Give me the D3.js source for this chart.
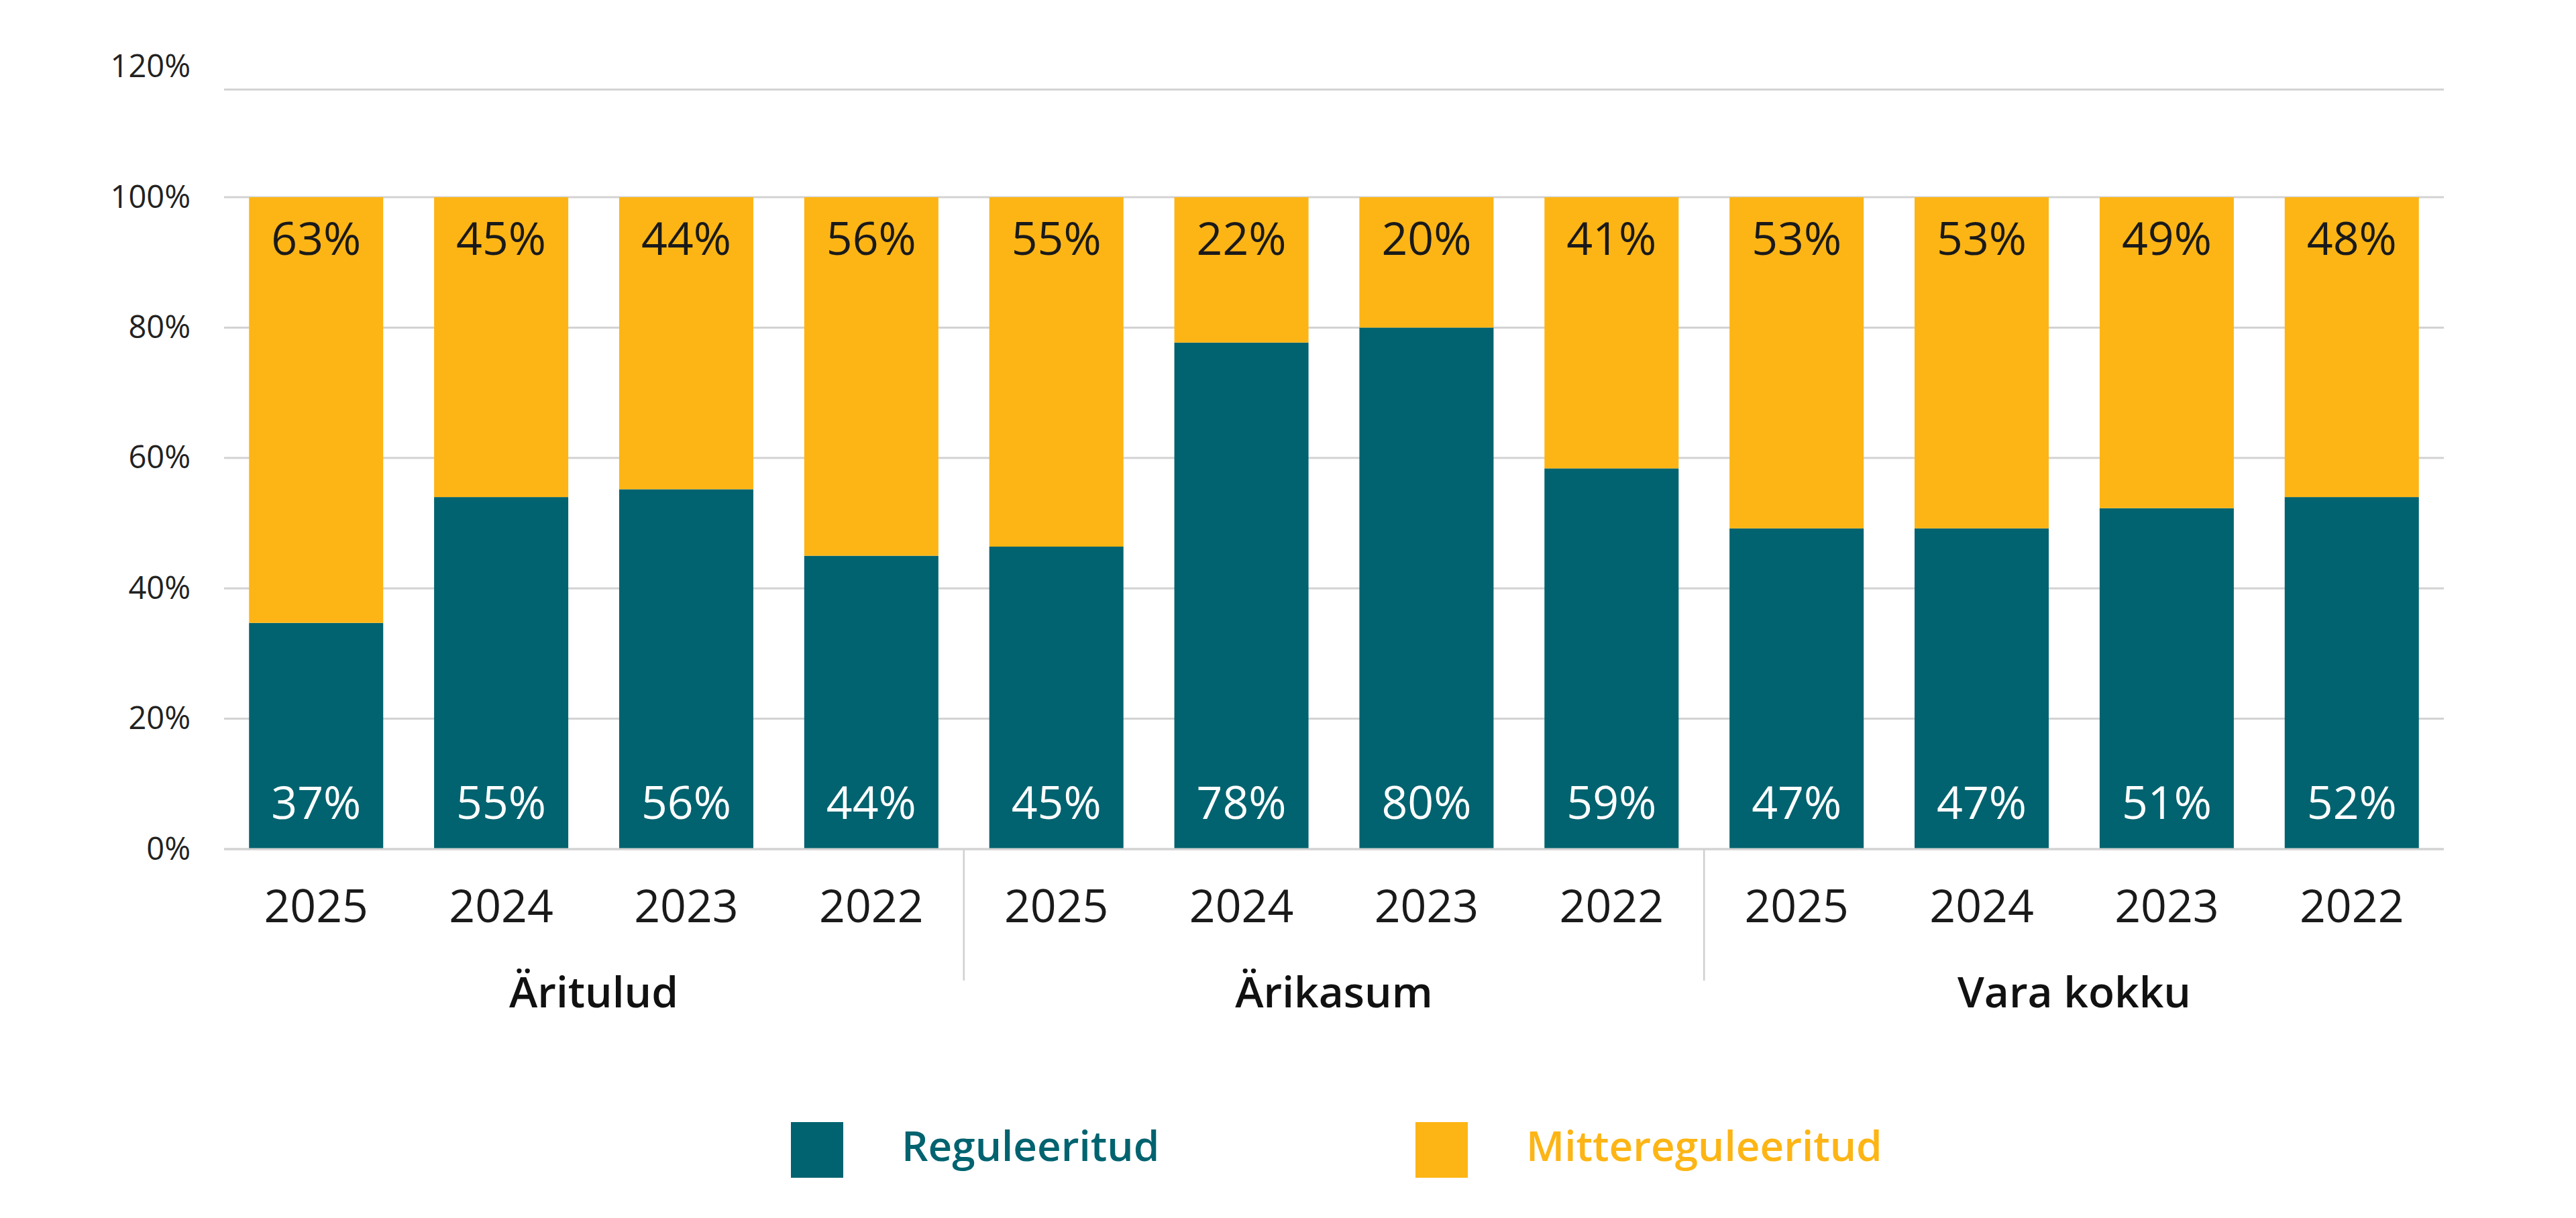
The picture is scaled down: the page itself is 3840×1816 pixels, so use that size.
<!DOCTYPE html>
<html>
<head>
<meta charset="utf-8">
<script src="https://cdn.jsdelivr.net/npm/d3@7"></script>
<style>
  html, body { margin: 0; padding: 0; background: #ffffff; }
  svg { display: block; }
  text { font-family: "Open Sans", "Noto Sans", "Liberation Sans", sans-serif; }
</style>
</head>
<body>
<svg id="chart" width="3840" height="1816"></svg>
<script>
// ---- data ----
const groups = ["Äritulud", "Ärikasum", "Vara kokku"];
const years = ["2025", "2024", "2023", "2022"];
// bar heights as drawn in the picture (%)
const regulatedValues   = [34.7, 54.0, 55.2, 45.0, 46.4, 77.7, 80.0, 58.4, 49.2, 49.2, 52.3, 54.0];
const unregulatedValues = [65.3, 46.0, 44.8, 55.0, 53.6, 22.3, 20.0, 41.6, 50.8, 50.8, 47.7, 46.0];
// data labels as printed (%)
const regulatedLabels   = [37, 55, 56, 44, 45, 78, 80, 59, 47, 47, 51, 52];
const unregulatedLabels = [63, 45, 44, 56, 55, 22, 20, 41, 53, 53, 49, 48];
const yTicks = [0, 20, 40, 60, 80, 100, 120];
const seriesNames = ["Reguleeritud", "Mittereguleeritud"];
const plotTopValue = 116.5; // top border of plot area as drawn

// ---- styles ----
const teal = "#00636F";
const orange = "#FDB515";
const gridColor = "#d3d3d3";

// ---- build table ----
const rows = [];
groups.forEach((g, gi) => {
  years.forEach((yr, yi) => {
    const i = gi * years.length + yi;
    rows.push({
      key: g + "|" + yr, group: g, year: yr,
      reg: regulatedValues[i], unreg: unregulatedValues[i],
      regLabel: regulatedLabels[i], unregLabel: unregulatedLabels[i]
    });
  });
});

const svg = d3.select("#chart");

const x = d3.scaleBand()
  .domain(rows.map(d => d.key))
  .range([334, 3643])
  .paddingInner(0.275)
  .paddingOuter(0.135);

const y = d3.scaleLinear().domain([0, 100]).range([1266, 294]);

// gridlines
const grid = svg.append("g");
grid.selectAll("line.grid")
  .data(yTicks.filter(t => t <= 100))
  .join("line")
  .attr("x1", 334).attr("x2", 3643)
  .attr("y1", d => y(d)).attr("y2", d => y(d))
  .attr("stroke", gridColor).attr("stroke-width", 3);
grid.append("line")
  .attr("x1", 334).attr("x2", 3643)
  .attr("y1", y(plotTopValue)).attr("y2", y(plotTopValue))
  .attr("stroke", gridColor).attr("stroke-width", 3);

// y axis labels
const yAxis = d3.axisLeft(y).tickValues(yTicks).tickFormat(d => d + "%").tickSize(0).tickPadding(0);
const yg = svg.append("g").attr("transform", "translate(284,0)").call(yAxis);
yg.select(".domain").remove();
yg.selectAll("text")
  .attr("font-size", 47)
  .attr("fill", "#222")
  .style("font-family", "'Open Sans', sans-serif");

// stacked bars
const stack = d3.stack().keys(["reg", "unreg"]);
const stacked = stack(rows);
const colors = { reg: teal, unreg: orange };

svg.append("g").selectAll("g")
  .data(stacked)
  .join("g")
  .attr("fill", s => colors[s.key])
  .selectAll("rect")
  .data(s => s)
  .join("rect")
  .attr("x", d => x(d.data.key))
  .attr("width", x.bandwidth())
  .attr("y", d => y(d[1]))
  .attr("height", d => y(d[0]) - y(d[1]));

// value labels
const labels = svg.append("g").attr("text-anchor", "middle").attr("font-size", 68);
labels.selectAll("text.top")
  .data(rows)
  .join("text")
  .attr("x", d => x(d.key) + x.bandwidth() / 2)
  .attr("y", y(100) + 86)
  .attr("fill", "#1a1a1a")
  .text(d => d.unregLabel + "%");
labels.selectAll("text.bottom")
  .data(rows)
  .join("text")
  .attr("x", d => x(d.key) + x.bandwidth() / 2)
  .attr("y", y(0) - 45)
  .attr("fill", "#ffffff")
  .text(d => d.regLabel + "%");

// year labels
svg.append("g").attr("text-anchor", "middle").selectAll("text")
  .data(rows)
  .join("text")
  .attr("x", d => x(d.key) + x.bandwidth() / 2)
  .attr("y", 1375)
  .attr("font-size", 68)
  .attr("fill", "#1a1a1a")
  .text(d => d.year);

// group separators
const step = x.step();
const sepG = svg.append("g");
groups.slice(1).forEach((g, gi) => {
  const firstKey = g + "|" + years[0];
  const sx = x(firstKey) - step * x.paddingInner() / 2;
  sepG.append("line")
    .attr("x1", sx).attr("x2", sx)
    .attr("y1", y(0)).attr("y2", 1462)
    .attr("stroke", "#cfcfcf").attr("stroke-width", 2.5);
});

// group labels
svg.append("g").attr("text-anchor", "middle").selectAll("text")
  .data(groups)
  .join("text")
  .attr("x", g => {
    const a = x(g + "|" + years[0]);
    const b = x(g + "|" + years[years.length - 1]) + x.bandwidth();
    return (a + b) / 2;
  })
  .attr("y", 1502)
  .attr("font-size", 64)
  .attr("font-weight", 600)
  .attr("fill", "#111")
  .text(g => g);

// x baseline
svg.append("line")
  .attr("x1", 334).attr("x2", 3643)
  .attr("y1", y(0)).attr("y2", y(0))
  .attr("stroke", gridColor).attr("stroke-width", 3);

// legend
const legendItems = [
  { name: seriesNames[0], color: teal, x: 1179 },
  { name: seriesNames[1], color: orange, x: 2110 }
];
const lg = svg.append("g");
const li = lg.selectAll("g").data(legendItems).join("g")
  .attr("transform", d => `translate(${d.x},1673)`);
li.append("rect").attr("width", 78).attr("height", 83).attr("fill", d => d.color);
li.append("text")
  .attr("x", 165).attr("y", 58)
  .attr("font-size", 62)
  .attr("font-weight", 600)
  .attr("fill", d => d.color)
  .text(d => d.name);
</script>
</body>
</html>
